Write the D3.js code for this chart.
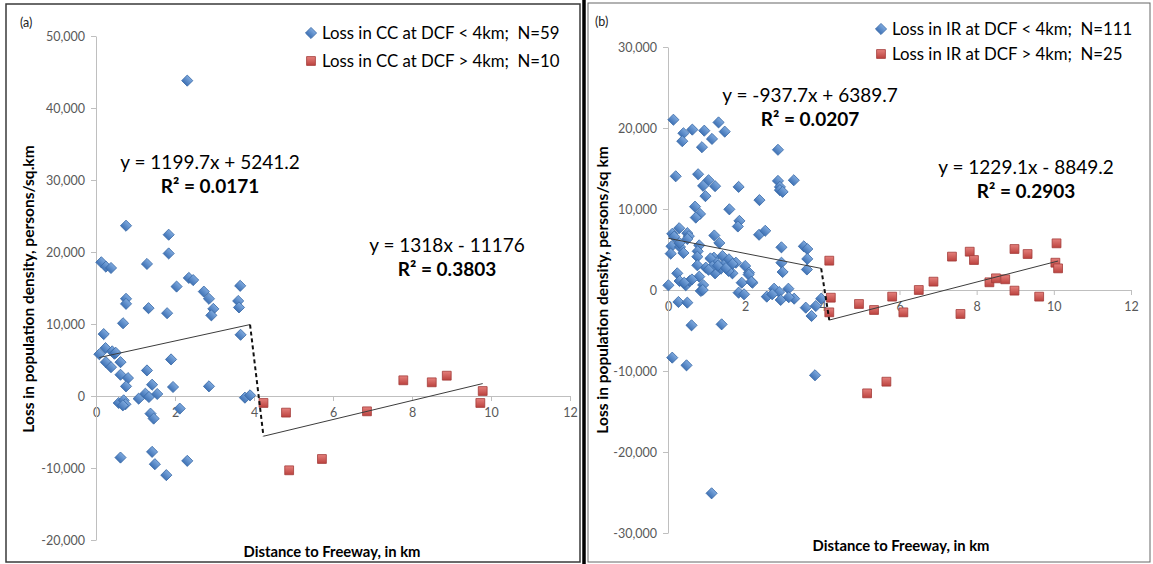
<!DOCTYPE html>
<html>
<head>
<meta charset="utf-8">
<script src="https://cdn.jsdelivr.net/npm/d3@7"></script>
<style>
  body { margin: 0; background: #fff; }
  svg { font-family: Lato, "Open Sans", sans-serif; }
  .axis path, .axis line { stroke: #bfbfbf; }
  .axis text { fill: #595959; font-size: 12.5px; font-family: Lato, sans-serif; }
</style>
</head>
<body>
<div id="chart"></div>
<script>
// ---- data ----
// panel (a): city core (CC)
const ccNear = [
  [2.31, 43800], [0.76, 23650], [1.84, 22400], [1.84, 19800], [0.135, 18570],
  [0.25, 17970], [0.38, 17780], [1.29, 18340], [2.04, 15200], [2.35, 16400],
  [2.46, 16100], [2.73, 14500], [2.86, 13500], [2.97, 12100], [2.92, 11200],
  [3.65, 15300], [3.60, 13200], [3.62, 12300], [3.66, 8500], [0.76, 13500],
  [0.76, 12800], [1.33, 12200], [1.80, 11500], [0.685, 10100], [0.195, 8600],
  [0.085, 5800], [0.24, 6650], [0.41, 6200], [0.465, 5870], [0.25, 4700],
  [0.38, 4000], [0.62, 4700], [1.29, 3550], [1.90, 5080], [0.62, 2950],
  [0.81, 2490], [0.76, 1340], [1.42, 1570], [1.95, 1250], [2.86, 1340],
  [1.08, -370], [1.25, 320], [1.34, -140], [1.55, 280], [0.575, -970],
  [0.70, -600], [0.745, -1150], [0.68, -1300], [0.50, 6000], [2.12, -1750],
  [1.38, -2450], [1.46, -3140], [3.77, -230], [3.90, 90], [0.62, -8550],
  [1.42, -7760], [1.49, -9470], [2.31, -9010], [1.78, -10990]
];
const ccFar = [
  [4.24, -970], [4.81, -2310], [6.86, -2130], [4.89, -10320], [5.72, -8750],
  [7.78, 2180], [8.50, 1900], [8.88, 2820], [9.79, 690], [9.73, -970]
];
// panel (b): inner ring (IR)
const irNear = [
  [0.14, 21020], [0.40, 19350], [0.37, 18370], [0.63, 19800], [0.94, 19670],
  [1.14, 18650], [1.31, 20690], [1.47, 19550], [0.88, 17630], [2.85, 17310],
  [0.20, 14040], [0.78, 14290], [1.05, 13550], [0.91, 12860], [1.22, 12820],
  [0.97, 11590], [1.83, 12730], [2.37, 11100], [2.85, 13470], [2.90, 12730],
  [2.90, 12330], [2.97, 12120], [3.26, 13550], [0.70, 10290], [0.83, 9390],
  [0.72, 8940], [1.59, 9960], [1.85, 8530], [1.81, 7840], [2.36, 6820],
  [2.52, 7310], [0.11, 6940], [0.29, 7630], [0.50, 7020], [0.09, 5390],
  [0.31, 5310], [0.40, 4570], [0.81, 5510], [0.77, 4780], [1.20, 6730],
  [1.33, 5800], [2.94, 5270], [3.52, 5390], [3.61, 5060], [0.07, 4490],
  [0.54, 6650], [0.50, 6300], [0.16, 6600], [0.76, 4110], [0.76, 3050],
  [0.98, 2760], [1.19, 3990], [1.26, 3370], [1.41, 4200], [1.47, 3170],
  [1.22, 2060], [1.37, 2630], [1.58, 3790], [1.76, 3370], [1.67, 2060],
  [2.00, 2960], [2.10, 2140], [2.19, 900], [1.91, 900], [1.83, -330],
  [1.97, -530], [0.24, 2060], [0.30, 1110], [0.46, 580], [0.56, 1110],
  [0.81, 1650], [0.91, 620], [0.85, -120], [0.01, 580], [0.27, -1480],
  [0.50, -1560], [0.61, -4360], [1.39, -4240], [0.11, -8350], [0.48, -9300],
  [1.13, -25100], [3.81, -10530], [2.56, -820], [2.75, 160], [2.88, -250],
  [2.92, -1230], [3.12, 160], [3.27, -1070], [3.57, -2180], [3.72, -3210],
  [3.83, -1980], [3.97, -1070], [2.94, 3370], [2.97, 2220], [3.61, 3840],
  [3.60, 2530], [1.10, 3900], [1.15, 2900], [1.29, 3000], [1.57, 2350],
  [1.67, 3230], [2.09, 1900], [2.16, 1020], [2.70, -530], [3.13, -890],
  [0.62, 1300], [0.42, 900], [0.90, 0], [1.05, 2500], [1.50, 2700],
  [0.30, 5800]
];
const irFar = [
  [4.18, 3620], [4.22, -950], [4.18, -2760], [4.95, -1730], [5.34, -2470],
  [5.81, -820], [6.10, -2760], [5.16, -12760], [5.66, -11320], [6.50, 0],
  [6.88, 1030], [7.36, 4120], [7.58, -2960], [7.82, 4730], [7.93, 3700],
  [8.33, 950], [8.50, 1440], [8.74, 1320], [8.98, 5060], [8.98, -80],
  [9.32, 4440], [9.62, -820], [10.04, 3370], [10.07, 5760], [10.11, 2670]
];
// trendline coefficients [slope, intercept]
const ccTrend = [[1199.7, 5241.2], [1318, -11176]];
const irTrend = [[-937.7, 6389.7], [1229.1, -8849.2]];
const ccLabels = ['Loss in CC at DCF < 4km;  N=59', 'Loss in CC at DCF > 4km;  N=10'];
const irLabels = ['Loss in IR at DCF < 4km;  N=111', 'Loss in IR at DCF > 4km;  N=25'];
const ccEquations = [['y = 1199.7x + 5241.2', 'R² = 0.0171'], ['y = 1318x - 11176', 'R² = 0.3803']];
const irEquations = [['y = -937.7x + 6389.7', 'R² = 0.0207'], ['y = 1229.1x - 8849.2', 'R² = 0.2903']];
const xTicks = [0, 2, 4, 6, 8, 10, 12];
const ccYTicks = [-20000, -10000, 0, 10000, 20000, 30000, 40000, 50000];
const irYTicks = [-30000, -20000, -10000, 0, 10000, 20000, 30000];

let width = 1153;
let height = 564;

let svg = d3.select('#chart')
    .append('svg')
    .attr('width', width)
    .attr('height', height);

let defs = svg.append('defs');
let blueGrad = defs.append('linearGradient').attr('id', 'blueGrad')
    .attr('x1', 0).attr('y1', 0).attr('x2', 0).attr('y2', 1);
blueGrad.append('stop').attr('offset', '0%').attr('stop-color', '#7ea9de');
blueGrad.append('stop').attr('offset', '100%').attr('stop-color', '#3f72b5');
let redGrad = defs.append('linearGradient').attr('id', 'redGrad')
    .attr('x1', 0).attr('y1', 0).attr('x2', 0).attr('y2', 1);
redGrad.append('stop').attr('offset', '0%').attr('stop-color', '#e5807c');
redGrad.append('stop').attr('offset', '100%').attr('stop-color', '#bb423e');

let fmt = d3.formatLocale({ decimal: '.', thousands: ',', grouping: [3], currency: ['', ''], minus: '-' }).format(',');

let diamond = d3.symbol(d3.symbolSquare, 62)();
let square = d3.symbol(d3.symbolSquare, 78)();

// panel frames
svg.append('rect').attr('x', 6).attr('y', 4).attr('width', 574).attr('height', 558)
    .attr('fill', 'none').attr('stroke', '#3a3a3a').attr('stroke-width', 1.5);
svg.append('line').attr('x1', 584).attr('x2', 584).attr('y1', 0).attr('y2', 564)
    .attr('stroke', '#000').attr('stroke-width', 3.5);
svg.append('rect').attr('x', 588).attr('y', 3).attr('width', 562).attr('height', 559)
    .attr('fill', 'none').attr('stroke', '#666').attr('stroke-width', 1);

function drawPanel(cfg) {
    let g = svg.append('g');
    let xScale = d3.scaleLinear().domain([0, 12]).range(cfg.xRange);
    let yScale = d3.scaleLinear().domain(cfg.yDomain).range(cfg.yRange);

    let xAxis = d3.axisBottom(xScale).tickValues(xTicks).tickSize(5).tickSizeOuter(0).tickPadding(7);
    g.append('g').classed('axis', true)
        .attr('transform', `translate(0,${yScale(0)})`)
        .call(xAxis);
    let yAxis = d3.axisLeft(yScale).tickValues(cfg.yTicks).tickSize(5).tickSizeOuter(0).tickPadding(6).tickFormat(fmt);
    g.append('g').classed('axis', true)
        .attr('transform', `translate(${xScale(0)},0)`)
        .call(yAxis);

    g.append('g').selectAll('path')
        .data(cfg.near).enter().append('path')
        .attr('d', diamond)
        .attr('transform', d => `translate(${xScale(d[0])},${yScale(d[1])}) rotate(45)`)
        .attr('fill', 'url(#blueGrad)').attr('stroke', '#3a6aa8').attr('stroke-width', 0.8);
    g.append('g').selectAll('path')
        .data(cfg.far).enter().append('path')
        .attr('d', square)
        .attr('transform', d => `translate(${xScale(d[0])},${yScale(d[1])})`)
        .attr('fill', 'url(#redGrad)').attr('stroke', '#a33b38').attr('stroke-width', 0.8);

    // trendlines over each series' x range
    let line = d3.line().x(d => xScale(d[0])).y(d => yScale(d[1]));
    let ends = [cfg.near, cfg.far].map((s, i) => {
        let ext = d3.extent(s, d => d[0]);
        return ext.map(x => [x, cfg.trend[i][0] * x + cfg.trend[i][1]]);
    });
    ends.forEach(e => {
        g.append('path').attr('d', line(e))
            .attr('fill', 'none').attr('stroke', '#3c3c3c').attr('stroke-width', 1);
    });
    g.append('path').attr('d', line([ends[0][1], ends[1][0]]))
        .attr('fill', 'none').attr('stroke', '#111').attr('stroke-width', 2)
        .attr('stroke-dasharray', '4,3');

    // equations
    cfg.equations.forEach((eq, i) => {
        let p = cfg.eqPos[i];
        g.append('text').attr('x', p[0]).attr('y', p[1]).attr('text-anchor', 'middle')
            .attr('font-size', 19).attr('fill', '#000').text(eq[0]);
        g.append('text').attr('x', p[0]).attr('y', p[1] + 24).attr('text-anchor', 'middle')
            .attr('font-size', 19).attr('font-weight', 'bold').attr('fill', '#000').text(eq[1]);
    });

    // legend
    cfg.labels.forEach((lab, i) => {
        let ly = cfg.legend[1] + i * cfg.legendGap;
        g.append('path').attr('d', i === 0 ? diamond : square)
            .attr('transform', `translate(${cfg.legend[0]},${ly})` + (i === 0 ? ' rotate(45)' : ''))
            .attr('fill', i === 0 ? 'url(#blueGrad)' : 'url(#redGrad)')
            .attr('stroke', i === 0 ? '#3a6aa8' : '#a33b38').attr('stroke-width', 0.8);
        g.append('text').attr('x', cfg.legend[0] + 11).attr('y', ly + 6)
            .attr('font-size', 16.8).attr('fill', '#000').style('white-space', 'pre').text(lab);
    });

    // titles
    g.append('text').attr('x', cfg.tag[0]).attr('y', cfg.tag[1]).attr('font-size', 12.5).attr('fill', '#222').text(cfg.tagText);
    g.append('text').attr('x', cfg.xTitle[0]).attr('y', cfg.xTitle[1]).attr('text-anchor', 'middle')
        .attr('font-size', 14.8).attr('font-weight', 'bold').attr('fill', '#000').text('Distance to Freeway, in km');
    g.append('text').attr('transform', `translate(${cfg.yTitle[0]},${cfg.yTitle[1]}) rotate(-90)`)
        .attr('text-anchor', 'middle').attr('font-size', 15.5).attr('font-weight', 'bold').attr('fill', '#000')
        .text(cfg.yTitleText);
}

drawPanel({
    xRange: [96, 570], yDomain: [-20000, 50000], yRange: [540, 36], yTicks: ccYTicks,
    near: ccNear, far: ccFar, trend: ccTrend, equations: ccEquations,
    eqPos: [[210, 169], [447, 252]],
    labels: ccLabels, legend: [311, 33], legendGap: 28,
    tag: [20, 27], tagText: '(a)',
    xTitle: [332, 557], yTitle: [34, 289], yTitleText: 'Loss in population density, persons/sq.km'
});
drawPanel({
    xRange: [668, 1131], yDomain: [-30000, 30000], yRange: [533, 47], yTicks: irYTicks,
    near: irNear, far: irFar, trend: irTrend, equations: irEquations,
    eqPos: [[810, 102], [1026, 174]],
    labels: irLabels, legend: [881, 29], legendGap: 25,
    tag: [595, 26], tagText: '(b)',
    xTitle: [901, 551], yTitle: [608, 290], yTitleText: 'Loss in population density, persons/sq km'
});
</script>
</body>
</html>
